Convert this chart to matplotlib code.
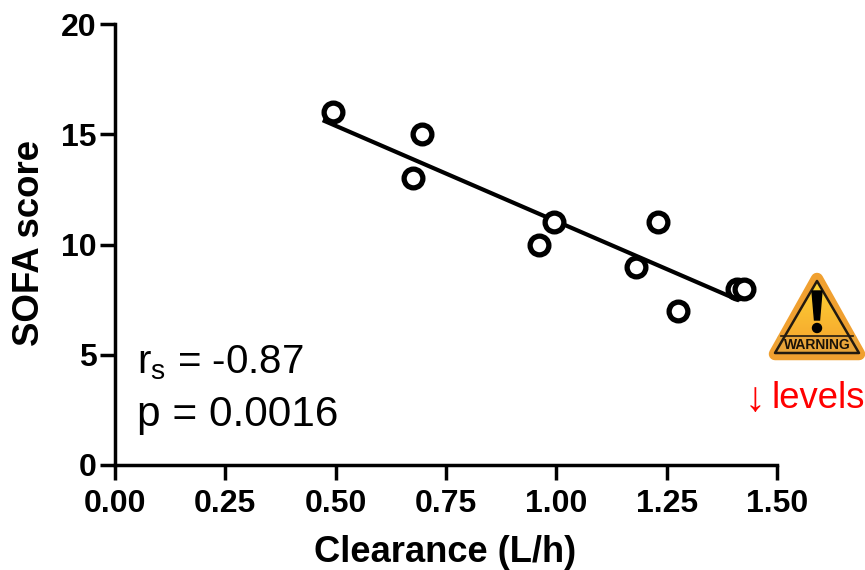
import matplotlib
matplotlib.use("Agg")
import matplotlib.pyplot as plt
import numpy as np
from matplotlib.patches import Polygon, Circle

clearance = [0.495, 0.675, 0.695, 0.96, 0.995, 1.18, 1.23, 1.275, 1.41, 1.425]
sofa = [16, 13, 15, 10, 11, 9, 11, 7, 8, 8]
fit_x = [0.475, 1.41]
fit_y = [15.6, 7.5]
xticks = [0, 0.25, 0.5, 0.75, 1.0, 1.25, 1.5]
yticks = [0, 5, 10, 15, 20]

plt.rcParams['font.family'] = ['Liberation Sans', 'DejaVu Sans']
W, H = 865, 570
fig = plt.figure(figsize=(W/100, H/100), dpi=100)
L, R, T, B = 115, 777, 24, 465
ax = fig.add_axes([L/W, 1-B/H, (R-L)/W, (B-T)/H])
ax.set_xlim(0, 1.5)
ax.set_ylim(0, 20)
for s in ['top', 'right']:
    ax.spines[s].set_visible(False)
for s in ['left', 'bottom']:
    ax.spines[s].set_linewidth(2.5)
ax.tick_params(width=2.5, length=10.5)
ax.tick_params(axis='x', pad=7)
ax.tick_params(axis='y', pad=2.5)
ax.set_xticks(xticks, [f"{v:.2f}" for v in xticks], fontsize=23, fontweight='bold')
ax.set_yticks(yticks, [str(v) for v in yticks], fontsize=23, fontweight='bold')
ax.plot(fit_x, fit_y, color='black', lw=3, zorder=2)
ax.plot(clearance, sofa, ls='none', marker='o', ms=13.5, mfc='white', mec='black', mew=3.8, zorder=3, clip_on=False)
fig.text(30/W, 1-243/H, "SOFA score", rotation=90, fontsize=26.4, fontweight='bold', ha='center', va='center')
fig.text(445/W, 1-553/H, "Clearance (L/h)", fontsize=26.2, fontweight='bold', ha='center', va='center')
fig.text(137/W, 1-363/H, r"r$_{\mathregular{s}}$ = -0.87", fontsize=29, ha='left', va='center')
fig.text(137/W, 1-415/H, "p = 0.0016", fontsize=30.5, ha='left', va='center')
fig.text(745/W, 1-400/H, "↓", fontsize=30, color='red', ha='left', va='center')
fig.text(771/W, 1-399/H, "levels", fontsize=26.3, color='red', ha='left', va='center')

# warning icon in pixel-based overlay axes
ov = fig.add_axes([0, 0, 1, 1], facecolor='none')
ov.set_xlim(0, W); ov.set_ylim(H, 0); ov.axis('off')
outer = Polygon([[817, 279], [859, 354], [775, 354]], closed=True, fc='#f0a030', ec='#f0a030', lw=9, joinstyle='round')
ov.add_patch(outer)
yy, xx = np.mgrid[270:362, 765:865]
grad = np.clip((yy - 285) / 70.0, 0, 1)
rgb = np.dstack([0.99 - 0.03*grad, 0.82 - 0.20*grad, 0.20 - 0.02*grad])
inner = Polygon([[817, 281], [859, 353], [775, 353]], closed=True, fc='none', ec='#221a10', lw=1.8, joinstyle='round')
img = ov.imshow(rgb, extent=(765, 865, 362, 270), aspect='auto', zorder=2)
img.set_clip_path(Polygon([[817, 281], [859, 353], [775, 353]], closed=True, transform=ov.transData))
inner.set_zorder(3)
ov.add_patch(inner)
ov.set_xlim(0, W); ov.set_ylim(H, 0)
ov.add_patch(Polygon([[778, 336], [856, 336], [860, 354], [775, 354]], closed=True, fc='#e9a53a', ec='none', zorder=2.5))
ov.plot([781, 853], [336, 336], color='#221a10', lw=1.2, zorder=3)
ov.add_patch(Polygon([[812, 291], [822, 291], [819.5, 320], [814.5, 320]], closed=True, fc='black', ec='black', zorder=4))
ov.add_patch(Circle((817, 328), 4.5, fc='black', ec='black', zorder=4))
ov.text(817, 345, "WARNING", fontsize=10, fontweight='bold', ha='center', va='center', color='#1a1208', zorder=5)
fig.savefig("out.png", dpi=100)
